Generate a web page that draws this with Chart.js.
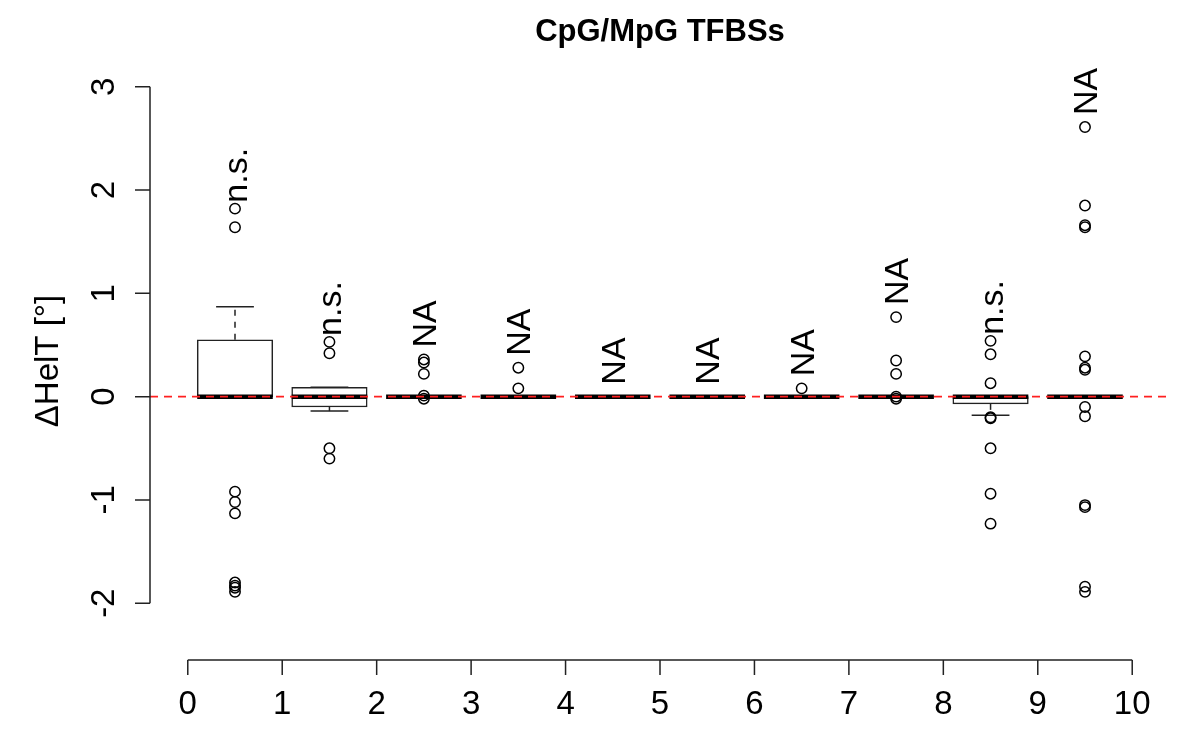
<!DOCTYPE html>
<html>
<head>
<meta charset="utf-8">
<script src="https://cdn.jsdelivr.net/npm/chart.js@4"></script>
<style>
  body { margin: 0; background: #fff; }
  #wrap { width: 1200px; height: 750px; }
</style>
</head>
<body>
<div id="wrap"><canvas id="myChart" width="1200" height="750"></canvas></div>
<script>
// group centres on the x axis and the box summaries
const groupX = [0.5, 1.5, 2.5, 3.5, 4.5, 5.5, 6.5, 7.5, 8.5, 9.5];
const lowerWhisker = [0, -0.14, 0, 0, 0, 0, 0, 0, -0.18, 0];
const q1 = [0, -0.10, 0, 0, 0, 0, 0, 0, -0.07, 0];
const medians = [0, 0, 0, 0, 0, 0, 0, 0, 0, 0];
const q3 = [0.55, 0.09, 0, 0, 0, 0, 0, 0, 0, 0];
const upperWhisker = [0.87, 0.09, 0, 0, 0, 0, 0, 0, 0, 0];
const outliers = [
  [1.82, 1.64, -0.92, -1.02, -1.13, -1.80, -1.83, -1.85, -1.89],
  [0.53, 0.42, -0.50, -0.60],
  [0.36, 0.33, 0.22, 0.01, -0.02],
  [0.28, 0.08],
  [],
  [],
  [0.08],
  [0.77, 0.35, 0.22, 0.0, -0.02],
  [0.54, 0.41, 0.13, -0.20, -0.21, -0.50, -0.94, -1.23],
  [2.61, 1.85, 1.66, 1.64, 0.39, 0.28, 0.26, -0.10, -0.19, -1.05, -1.07, -1.84, -1.89]
];
const testLabels = ['n.s.', 'n.s.', 'NA', 'NA', 'NA', 'NA', 'NA', 'NA', 'n.s.', 'NA'];
const xTicks = [0, 1, 2, 3, 4, 5, 6, 7, 8, 9, 10];
const yTicks = [-2, -1, 0, 1, 2, 3];

const FONT = '"Liberation Sans", Arial, Helvetica, sans-serif';
const INK = '#222';

const boxData = groupX.map((x, i) => ({ x: x, y: [q1[i], q3[i]] }));
const pointData = [];
outliers.forEach((vals, i) => vals.forEach(v => pointData.push({ x: groupX[i], y: v })));

const boxPlugin = {
  id: 'boxPlugin',
  afterDatasetDraw(chart, args) {
    if (args.index !== 0) return;
    const { ctx, scales: { x, y } } = chart;
    const half = (x.getPixelForValue(0.4) - x.getPixelForValue(0));
    ctx.save();
    ctx.strokeStyle = INK;
    groupX.forEach((gx, i) => {
      const cx = x.getPixelForValue(gx);
      // whiskers
      ctx.lineWidth = 1.5;
      ctx.setLineDash([6, 6]);
      ctx.beginPath();
      ctx.moveTo(cx, y.getPixelForValue(q3[i]));
      ctx.lineTo(cx, y.getPixelForValue(upperWhisker[i]));
      ctx.moveTo(cx, y.getPixelForValue(q1[i]));
      ctx.lineTo(cx, y.getPixelForValue(lowerWhisker[i]));
      ctx.stroke();
      ctx.setLineDash([]);
      ctx.beginPath();
      [upperWhisker[i], lowerWhisker[i]].forEach(v => {
        const py = y.getPixelForValue(v);
        ctx.moveTo(cx - half / 2, py);
        ctx.lineTo(cx + half / 2, py);
      });
      ctx.stroke();
      // median
      ctx.lineWidth = 4.5;
      ctx.strokeStyle = '#000';
      ctx.beginPath();
      const my = y.getPixelForValue(medians[i]);
      ctx.moveTo(cx - half, my);
      ctx.lineTo(cx + half, my);
      ctx.stroke();
      ctx.strokeStyle = INK;
    });
    ctx.restore();
  },
  afterDraw(chart) {
    const { ctx, chartArea, scales: { x, y } } = chart;
    ctx.save();
    ctx.strokeStyle = INK;
    ctx.fillStyle = '#000';
    ctx.lineWidth = 1.5;

    // x axis
    const ax = chartArea.bottom;
    ctx.beginPath();
    ctx.moveTo(x.getPixelForValue(xTicks[0]), ax);
    ctx.lineTo(x.getPixelForValue(xTicks[xTicks.length - 1]), ax);
    xTicks.forEach(t => {
      const px = x.getPixelForValue(t);
      ctx.moveTo(px, ax);
      ctx.lineTo(px, ax + 15);
    });
    // y axis
    const ay = chartArea.left;
    ctx.moveTo(ay, y.getPixelForValue(yTicks[0]));
    ctx.lineTo(ay, y.getPixelForValue(yTicks[yTicks.length - 1]));
    yTicks.forEach(t => {
      const py = y.getPixelForValue(t);
      ctx.moveTo(ay, py);
      ctx.lineTo(ay - 15, py);
    });
    ctx.stroke();

    ctx.font = '33px ' + FONT;
    ctx.textAlign = 'center';
    ctx.textBaseline = 'alphabetic';
    xTicks.forEach(t => ctx.fillText(String(t), x.getPixelForValue(t), ax + 54));
    yTicks.forEach(t => {
      ctx.save();
      ctx.translate(ay - 36, y.getPixelForValue(t));
      ctx.rotate(-Math.PI / 2);
      ctx.fillText(String(t), 0, 0);
      ctx.restore();
    });

    // y label
    ctx.save();
    ctx.translate(58, (chartArea.top + chartArea.bottom) / 2);
    ctx.rotate(-Math.PI / 2);
    ctx.fillText('\u0394HelT [\u00b0]', 0, 0);
    ctx.restore();

    // title
    ctx.font = 'bold 31px ' + FONT;
    ctx.fillText('CpG/MpG TFBSs', (chartArea.left + chartArea.right) / 2, 41);

    // test labels above each group
    ctx.font = '34px ' + FONT;
    ctx.textAlign = 'left';
    groupX.forEach((gx, i) => {
      const top = Math.max(upperWhisker[i], q3[i], ...outliers[i]);
      const gap = testLabels[i] === 'NA' ? 12 : 6;
      ctx.save();
      ctx.translate(x.getPixelForValue(gx) + 12, y.getPixelForValue(top) - gap);
      ctx.rotate(-Math.PI / 2);
      ctx.fillText(testLabels[i], 0, 0);
      ctx.restore();
    });
    ctx.restore();
  }
};

new Chart(document.getElementById('myChart').getContext('2d'), {
  type: 'bar',
  data: {
    datasets: [
      {
        type: 'bar',
        data: boxData,
        backgroundColor: '#fff',
        borderColor: INK,
        borderWidth: 1.5,
        borderSkipped: false,
        barThickness: 75.5,
        grouped: false,
        order: 3
      },
      {
        type: 'scatter',
        data: pointData,
        pointStyle: 'circle',
        pointRadius: 5.2,
        pointBorderWidth: 1.5,
        pointBackgroundColor: 'rgba(0,0,0,0)',
        pointBorderColor: '#000',
        order: 2
      },
      {
        type: 'line',
        data: [{ x: -0.4, y: 0 }, { x: 10.4, y: 0 }],
        borderColor: '#ff2020',
        borderWidth: 1.6,
        borderDash: [8, 6],
        pointRadius: 0,
        order: 1
      }
    ]
  },
  options: {
    responsive: false,
    devicePixelRatio: 1,
    animation: false,
    layout: { padding: { left: 150, right: 30, top: 62, bottom: 90 } },
    scales: {
      x: { type: 'linear', min: -0.4, max: 10.4, offset: false, display: false },
      y: { type: 'linear', min: -2.55, max: 3.24, display: false }
    },
    plugins: {
      legend: { display: false },
      tooltip: { enabled: false }
    }
  },
  plugins: [boxPlugin]
});
</script>
</body>
</html>
